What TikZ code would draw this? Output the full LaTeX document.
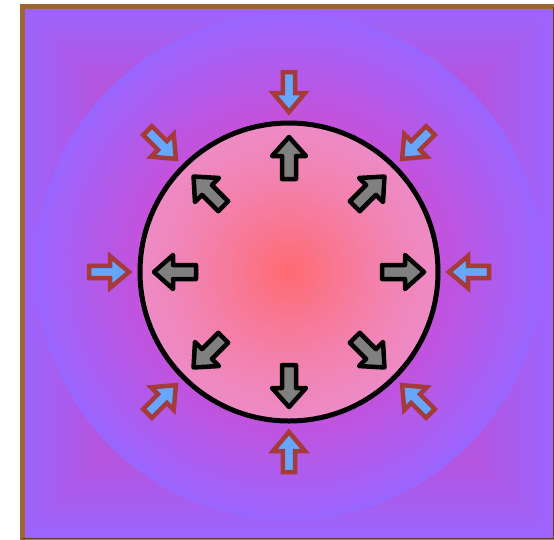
\documentclass[tikz,border=0pt]{standalone}
\usetikzlibrary{calc}
\definecolor{purp}{HTML}{9966FF}
\definecolor{magc}{HTML}{C452DC}
\definecolor{magk}{HTML}{B455E0}
\definecolor{pinkedge}{HTML}{EE8AC4}
\definecolor{redc}{HTML}{FF6A70}
\definecolor{brownb}{HTML}{9E6632}
\definecolor{arrblue}{HTML}{66A6FF}
\definecolor{arrred}{HTML}{A53A3A}
\definecolor{arrgray}{HTML}{808080}
\tikzset{
  outarrow/.style={fill=arrblue, draw=arrred, line width=4.5pt, line join=miter},
  inarrow/.style={fill=arrgray, draw=black, line width=4.5pt, line join=round},
  ringline/.style={draw=black, line width=5pt},
}
% angle, tail x, tip x, shaft half width, head half width, head base x, style
\newcommand\blkarrow[7]{%
  \begin{scope}[shift={(ctr)}, rotate=#1]
    \draw[#7] (#2,-#4) -- (#6,-#4) -- (#6,-#5) -- (#3,0) -- (#6,#5) -- (#6,#4) -- (#2,#4) -- cycle;
  \end{scope}}
\begin{document}
\begin{tikzpicture}[x=1pt,y=-1pt]
\useasboundingbox (0,0) rectangle (554,539);
\coordinate (ctr) at (289,272);
\coordinate (dc) at (289,267);
\coordinate (sc) at (287,272);
% background with square gradient
\begin{scope}
  \clip (20,5) rectangle (554,539);
  \fill[purp] (20,5) rectangle (554,539);
  \foreach \i in {0,...,40} {
    \pgfmathsetmacro\d{272-2*\i}
    \pgfmathtruncatemacro\p{100*\i/40}
    \fill[magk!\p!purp] ($(sc)+(-\d,-\d)$) rectangle ($(sc)+(\d,\d)$);
  }
  % disc with radial gradient
  \foreach \i in {0,...,52} {
    \pgfmathsetmacro\r{253-2*\i}
    \pgfmathtruncatemacro\p{100*(\i/52)^0.85}
    \fill[magc!\p!purp] (dc) circle (\r pt);
  }
\end{scope}
% inside of circle
\foreach \i in {0,...,50} {
  \pgfmathsetmacro\r{149-2.96*\i}
  \pgfmathtruncatemacro\p{100*(\i/50)^1.3}
  \fill[redc!\p!pinkedge] (ctr) circle (\r pt);
}
\draw[ringline] (ctr) circle (149pt);
% frame
\draw[brownb, line width=5pt] (22,545) -- (22,6.5) -- (560,6.5);
\draw[brownb!60!black, line width=1pt] (553.5,6.5) -- (553.5,538.5) -- (22,538.5);
% inner arrows (outward)
\foreach \a in {0,45,...,315} {
  \blkarrow{\a}{93}{135}{7}{17}{116}{inarrow}
}
% outer arrows (inward)
\foreach \a in {0,45,...,315} {
  \pgfmathsetmacro\b{\a+180}
  \blkarrow{\b}{-200}{-160}{6.2}{16}{-179}{outarrow}
}
\end{tikzpicture}
\end{document}
